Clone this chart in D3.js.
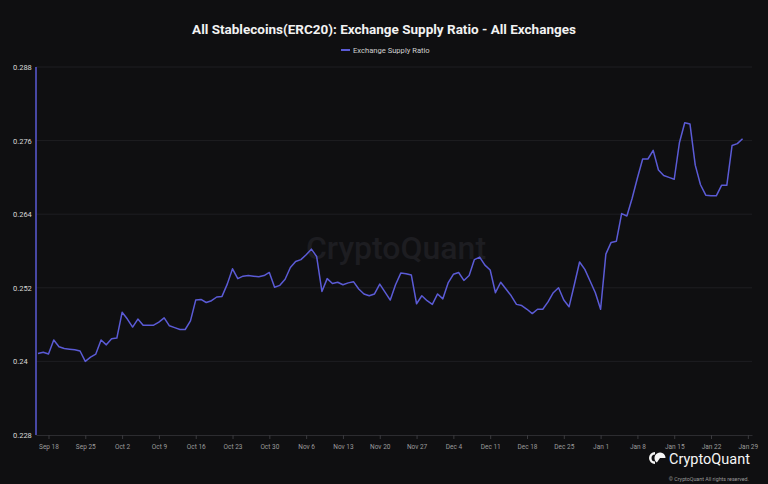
<!DOCTYPE html>
<html>
<head>
<meta charset="utf-8">
<script src="https://cdn.jsdelivr.net/npm/d3@7"></script>
<style>
  html, body { margin: 0; padding: 0; background: #0f0f11; }
  svg { display: block; font-family: Roboto, "Liberation Sans", sans-serif; }
</style>
</head>
<body>
<div id="chart"></div>
<script>
// daily series, Sep 16 2023 -> Jan 28 2024
var startDate = new Date(2023, 8, 16);
var endDate = new Date(2024, 0, 29);
var ratio = [
  0.2413, 0.2415, 0.2412, 0.2435, 0.2424, 0.2421, 0.2420, 0.2419, 0.2417, 0.2400,
  0.2407, 0.2412, 0.2435, 0.2427, 0.2437, 0.2438, 0.2480, 0.2469, 0.2456, 0.2469,
  0.2459, 0.2459, 0.2459, 0.2464, 0.2471, 0.2458, 0.2455, 0.2452, 0.2452, 0.2466,
  0.2500, 0.2501, 0.2496, 0.2499, 0.2505, 0.2506, 0.2526, 0.2551, 0.2535, 0.2539,
  0.2540, 0.2539, 0.2538, 0.2540, 0.2545, 0.2521, 0.2524, 0.2534, 0.2553, 0.2563,
  0.2566, 0.2574, 0.2583, 0.2571, 0.2514, 0.2535, 0.2527, 0.2529, 0.2525, 0.2528,
  0.2530, 0.2518, 0.2510, 0.2507, 0.2510, 0.2526, 0.2513, 0.2500, 0.2525, 0.2544,
  0.2543, 0.2541, 0.2494, 0.2507, 0.2499, 0.2493, 0.2510, 0.2502, 0.2528, 0.2542,
  0.2545, 0.2532, 0.2540, 0.2566, 0.2570, 0.2557, 0.2549, 0.2512, 0.2529, 0.2518,
  0.2507, 0.2493, 0.2491, 0.2485, 0.2478, 0.2485, 0.2485, 0.2497, 0.2512, 0.2520,
  0.2500, 0.2489, 0.2525, 0.2562, 0.2550, 0.2531, 0.2512, 0.2485, 0.2575, 0.2594,
  0.2596, 0.2641, 0.2637, 0.2666, 0.2699, 0.2730, 0.2730, 0.2744, 0.2712, 0.2703,
  0.2700, 0.2697, 0.2757, 0.2789, 0.2787, 0.2720, 0.2688, 0.2671, 0.2670, 0.2670,
  0.2687, 0.2687, 0.2752, 0.2755, 0.2763
];
var yTicks = [0.228, 0.24, 0.252, 0.264, 0.276, 0.288];
var titleText = "All Stablecoins(ERC20): Exchange Supply Ratio - All Exchanges";
var seriesName = "Exchange Supply Ratio";

var W = 768, H = 484;
var margin = {top: 67, right: 16, bottom: 49, left: 36},
    width = W - margin.left - margin.right,
    height = H - margin.top - margin.bottom;

var lineColor = "#5b5bd6";

var dates = d3.timeDay.range(startDate, endDate);
var data = dates.map(function(d, i) { return {date: d, value: ratio[i]}; });

var x = d3.scaleTime()
    .domain([d3.timeHour.offset(startDate, -9), d3.timeHour.offset(dates[dates.length - 1], 43)])
    .range([0, width]);
var y = d3.scaleLinear().domain([0.228, 0.288]).range([height, 0]);

var svg = d3.select("#chart").append("svg")
    .attr("width", W)
    .attr("height", H);

svg.append("rect").attr("width", W).attr("height", H).attr("fill", "#0f0f11");

// title + legend
svg.append("text")
    .attr("x", 384).attr("y", 34)
    .attr("text-anchor", "middle")
    .attr("fill", "#f2f2f2")
    .style("font-size", "13.5px")
    .style("font-weight", "bold")
    .text(titleText);

var legend = svg.append("g").attr("transform", "translate(341,50)");
legend.append("line")
    .attr("x1", 0).attr("x2", 9)
    .attr("stroke", lineColor).attr("stroke-width", 2);
legend.append("text")
    .attr("x", 12).attr("y", 3)
    .attr("fill", "#d0d0d0")
    .style("font-size", "7.6px")
    .text(seriesName);

var g = svg.append("g")
    .attr("transform", "translate(" + margin.left + "," + margin.top + ")");

// watermark
g.append("text")
    .attr("x", 360).attr("y", 192)
    .attr("text-anchor", "middle")
    .attr("fill", "#1d1d21")
    .style("font-size", "32px")
    .style("font-weight", "500")
    .text("CryptoQuant");

// grid lines
g.append("g")
    .selectAll("line")
    .data(yTicks.slice(1))
    .enter().append("line")
    .attr("x1", 0).attr("x2", width)
    .attr("y1", function(d) { return y(d); })
    .attr("y2", function(d) { return y(d); })
    .attr("stroke", "#1e1e22");

// y labels
g.append("g")
    .selectAll("text")
    .data(yTicks)
    .enter().append("text")
    .attr("x", 13 - margin.left)
    .attr("y", function(d) { return y(d) + 3; })
    .attr("fill", "#d8d8d8")
    .style("font-size", "7.5px")
    .text(function(d) { return d3.format("")(+d.toFixed(3)); });

// x axis
var xAxis = g.append("g")
    .attr("transform", "translate(0," + height + ")")
    .call(d3.axisBottom(x)
        .ticks(d3.timeMonday.every(1))
        .tickFormat(d3.timeFormat("%b %-d"))
        .tickSize(4)
        .tickSizeOuter(0));
xAxis.select(".domain").attr("stroke", "#2c2c30");
xAxis.selectAll(".tick line").attr("stroke", "#3a3a3e");
xAxis.selectAll(".tick text")
    .attr("fill", "#9c9c9c")
    .attr("dy", "1em")
    .style("font-size", "6.5px")
    .style("font-family", "Roboto, sans-serif");

// left axis line in series colour
g.append("line")
    .attr("x1", 0).attr("x2", 0)
    .attr("y1", 0).attr("y2", height)
    .attr("stroke", lineColor)
    .attr("stroke-width", 1.5);

var line = d3.line()
    .x(function(d) { return x(d.date); })
    .y(function(d) { return y(d.value); });

g.append("path")
    .datum(data)
    .attr("fill", "none")
    .attr("stroke", lineColor)
    .attr("stroke-width", 1.5)
    .attr("stroke-linejoin", "round")
    .attr("d", line);

// logo bottom right
var logo = svg.append("g").attr("transform", "translate(655,458)");
logo.append("path")
    .attr("d", "M0,-6 A6,6 0 0,0 0,6 L0,3.5 A3.5,3.5 0 0,1 0,-3.5 Z")
    .attr("fill", "#f5f5f5");
logo.append("path")
    .attr("d", d3.arc()({innerRadius: 0, outerRadius: 5.5, startAngle: -Math.PI + 0.6, endAngle: Math.PI * 0.5}))
    .attr("transform", "translate(5,0)")
    .attr("fill", "#f5f5f5");
logo.append("text")
    .attr("x", 14).attr("y", 5.5)
    .attr("fill", "#f5f5f5")
    .style("font-size", "14.5px")
    .text("CryptoQuant");
svg.append("text")
    .attr("x", 749).attr("y", 481)
    .attr("text-anchor", "end")
    .attr("fill", "#9a9a9a")
    .style("font-size", "5.3px")
    .text("© CryptoQuant All rights reserved.");
</script>
</body>
</html>
